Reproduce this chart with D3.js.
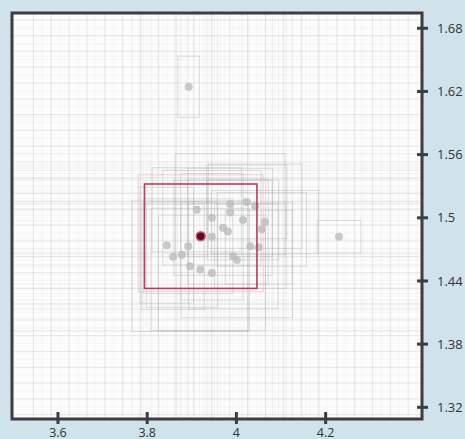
<!DOCTYPE html>
<html>
<head>
<meta charset="utf-8">
<script src="https://cdn.jsdelivr.net/npm/d3@7"></script>
<style>
  html, body { margin: 0; padding: 0; background: #d0e2ea; }
  svg { display: block; }
  text { font-family: "Open Sans", "Noto Sans", sans-serif; fill: #333; }
</style>
</head>
<body>
<svg id="chart" width="465" height="439"></svg>
<script>
// point estimates with their half-widths (x) and half-heights (y)
const xs  = [3.911, 3.945, 3.986, 4.023, 4.042, 3.986, 4.015, 4.064, 4.057, 3.970, 3.981, 3.945,
             3.844, 3.858, 3.892, 3.878, 3.896, 3.919, 3.945, 3.993, 4.031, 4.001, 4.050];
const ys  = [1.5076, 1.500, 1.513, 1.515, 1.511, 1.505, 1.498, 1.496, 1.489, 1.4905, 1.487, 1.482,
             1.474, 1.463, 1.473, 1.465, 1.454, 1.451, 1.4475, 1.4635, 1.473, 1.460, 1.472];
const xErr = [0.100, 0.110, 0.123, 0.090, 0.105, 0.095, 0.080, 0.120, 0.100, 0.110, 0.090, 0.070,
              0.060, 0.070, 0.100, 0.080, 0.130, 0.110, 0.120, 0.100, 0.080, 0.125, 0.075];
const yErr = [0.040, 0.045, 0.048, 0.035, 0.040, 0.042, 0.038, 0.030, 0.035, 0.045, 0.050, 0.060,
              0.055, 0.050, 0.045, 0.050, 0.062, 0.058, 0.055, 0.050, 0.040, 0.055, 0.035];

// outliers
const outX = [3.893, 4.230];
const outY = [1.6245, 1.482];
const outXErr = [0.024, 0.049];
const outYErr = [0.029, 0.0155];

// highlighted estimate
const selX = 3.920, selY = 1.4825, selXErr = 0.126, selYErr = 0.0496;
const prevX = 3.920, prevY = 1.4853, prevXErr = 0.140, prevYErr = 0.0555;

const xTicks = [3.6, 3.8, 4, 4.2];
const yTicks = [1.32, 1.38, 1.44, 1.5, 1.56, 1.62, 1.68];

const svg = d3.select('#chart');
const pl = 12, pr = 422, pt = 13, pb = 419;

const x = d3.scaleLinear().domain([3.497, 4.416]).range([pl, pr]);
const y = d3.scaleLinear().domain([1.3089, 1.6945]).range([pb, pt]);

svg.append('rect')
  .attr('x', pl).attr('y', pt)
  .attr('width', pr - pl).attr('height', pb - pt)
  .attr('fill', '#fcfcfc');

const plot = svg.append('g');

// background grid
const gx = d3.range(3.545, 4.42, 0.02);
const gy = d3.range(1.313, 1.694, 0.0075);
plot.selectAll('line.gx').data(gx).enter().append('line')
  .attr('x1', d => x(d)).attr('x2', d => x(d))
  .attr('y1', pt).attr('y2', pb)
  .attr('stroke', '#000').attr('stroke-width', 1.2)
  .attr('stroke-opacity', (d, i) => i % 2 ? 0.025 : 0.07);
plot.selectAll('line.gy').data(gy).enter().append('line')
  .attr('y1', d => y(d)).attr('y2', d => y(d))
  .attr('x1', pl).attr('x2', pr)
  .attr('stroke', '#000').attr('stroke-width', 1.2)
  .attr('stroke-opacity', (d, i) => i % 2 ? 0.025 : 0.07);

const pts = xs.map((d, i) => ({ x: d, y: ys[i], ex: xErr[i], ey: yErr[i] }));
const outs = outX.map((d, i) => ({ x: d, y: outY[i], ex: outXErr[i], ey: outYErr[i] }));
const all = pts.concat(outs);

// faint extension of box edges across the plot
plot.selectAll('line.ev').data(all.flatMap(d => [d.x - d.ex, d.x + d.ex])).enter().append('line')
  .attr('x1', d => x(d)).attr('x2', d => x(d))
  .attr('y1', pt).attr('y2', pb)
  .attr('stroke', '#000').attr('stroke-opacity', 0.03);
plot.selectAll('line.eh').data(all.flatMap(d => [d.y - d.ey, d.y + d.ey])).enter().append('line')
  .attr('y1', d => y(d)).attr('y2', d => y(d))
  .attr('x1', pl).attr('x2', pr)
  .attr('stroke', '#000').attr('stroke-opacity', 0.03);

// uncertainty boxes
plot.selectAll('rect.box').data(all).enter().append('rect')
  .attr('x', d => x(d.x - d.ex))
  .attr('y', d => y(d.y + d.ey))
  .attr('width', d => x(d.x + d.ex) - x(d.x - d.ex))
  .attr('height', d => y(d.y - d.ey) - y(d.y + d.ey))
  .attr('fill', 'none')
  .attr('stroke', '#a0a0a0')
  .attr('stroke-opacity', 0.3);

// gray points
plot.selectAll('circle.pt').data(all).enter().append('circle')
  .attr('cx', d => x(d.x)).attr('cy', d => y(d.y))
  .attr('r', 4)
  .attr('fill', '#bcbcbc')
  .attr('fill-opacity', 0.8);

// highlighted box
plot.append('rect')
  .attr('x', x(prevX - prevXErr)).attr('y', y(prevY + prevYErr))
  .attr('width', x(prevX + prevXErr) - x(prevX - prevXErr))
  .attr('height', y(prevY - prevYErr) - y(prevY + prevYErr))
  .attr('fill', 'none').attr('stroke', '#e8a3b4').attr('stroke-opacity', 0.5);
plot.append('rect')
  .attr('x', x(selX - selXErr)).attr('y', y(selY + selYErr))
  .attr('width', x(selX + selXErr) - x(selX - selXErr))
  .attr('height', y(selY - selYErr) - y(selY + selYErr))
  .attr('fill', 'none').attr('stroke', '#c23a5c').attr('stroke-width', 1.6);
plot.append('circle')
  .attr('cx', x(selX)).attr('cy', y(selY)).attr('r', 4.5)
  .attr('fill', '#5e0c22').attr('stroke', '#d65a7a').attr('stroke-width', 1.5);

// frame
svg.append('rect')
  .attr('x', pl).attr('y', pt)
  .attr('width', pr - pl).attr('height', pb - pt)
  .attr('fill', 'none').attr('stroke', '#3d3d3d').attr('stroke-width', 3);

// x axis
const xa = svg.append('g');
xa.selectAll('line').data(xTicks).enter().append('line')
  .attr('x1', d => x(d)).attr('x2', d => x(d))
  .attr('y1', pb - 7).attr('y2', pb + 5)
  .attr('stroke', '#3d3d3d').attr('stroke-width', 3);
xa.selectAll('text').data(xTicks).enter().append('text')
  .attr('x', d => x(d)).attr('y', 437)
  .attr('text-anchor', 'middle')
  .style('font-size', '12.5px')
  .text(d => d);

// right y axis
const ya = svg.append('g');
ya.selectAll('line').data(yTicks).enter().append('line')
  .attr('x1', pr - 5).attr('x2', pr + 6)
  .attr('y1', d => y(d)).attr('y2', d => y(d))
  .attr('stroke', '#3d3d3d').attr('stroke-width', 3);
ya.selectAll('text').data(yTicks).enter().append('text')
  .attr('x', 437).attr('y', d => y(d))
  .attr('dy', '0.35em')
  .style('font-size', '13px')
  .text(d => d);
</script>
</body>
</html>
